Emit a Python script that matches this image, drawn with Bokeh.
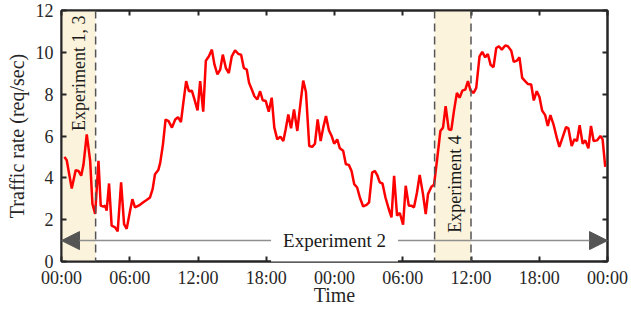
from bokeh.plotting import figure
from bokeh.models import (FixedTicker, LinearAxis, BoxAnnotation, Span, Arrow,
                          NormalHead, Label, Range1d)
from bokeh.embed import file_html
from bokeh.resources import INLINE
import math

# ---- data (hours since start, requests/sec) ----
time_h = [0.26,0.46,0.90,1.25,1.49,1.73,1.93,2.22,2.52,2.72,
          2.96,3.25,3.45,3.68,3.83,3.97,4.18,4.41,4.71,4.94,
          5.24,5.50,5.73,6.03,6.23,6.46,6.90,7.19,7.48,7.78,
          8.01,8.22,8.51,8.68,8.92,9.15,9.41,9.71,10.00,10.24,
          10.50,10.73,10.96,11.20,11.46,11.69,11.96,12.19,12.46,12.69,
          12.96,13.22,13.45,13.71,13.95,14.18,14.45,14.71,14.97,15.26,
          15.55,15.79,16.03,16.29,16.49,16.73,16.96,17.22,17.46,17.69,
          17.96,18.22,18.48,18.71,18.97,19.24,19.50,19.71,19.94,20.18,
          20.44,20.73,21.03,21.25,21.49,21.78,22.04,22.28,22.52,22.78,
          23.01,23.25,23.51,23.75,23.97,24.24,24.47,24.76,25.00,25.26,
          25.50,25.73,25.99,26.23,26.52,26.82,27.04,27.31,27.54,27.78,
          27.98,28.22,28.48,28.77,29.01,29.24,29.50,29.74,30.03,30.26,
          30.53,30.76,30.99,31.25,31.49,31.78,32.02,32.22,32.52,32.75,
          33.04,33.31,33.54,33.77,34.04,34.27,34.50,34.76,35.00,35.24,
          35.50,35.73,35.96,36.23,36.46,36.75,36.99,37.25,37.48,37.72,
          37.98,38.22,38.45,38.71,39.01,39.24,39.54,39.76,40.03,40.26,
          40.50,40.76,40.99,41.29,41.52,41.78,42.02,42.25,42.52,42.75,
          42.98,43.25,43.54,43.77,44.06,44.36,44.56,44.85,45.09,45.32,
          45.55,45.82,46.05,46.32,46.55,46.78,47.08,47.37,47.57,47.80]

rate = [5.00,4.84,3.49,4.37,4.33,4.10,4.62,6.08,4.81,2.75,
        2.27,4.81,2.67,2.62,2.67,2.43,3.73,1.71,1.63,1.44,
        3.78,1.79,1.56,2.43,2.98,2.59,2.71,2.83,2.94,3.06,
        3.46,4.17,4.37,4.73,5.60,6.79,6.71,6.40,6.79,6.90,
        6.67,7.67,8.62,8.14,8.17,7.75,7.22,8.62,7.16,9.60,
        9.81,10.13,9.41,8.94,9.17,9.89,9.25,9.01,9.81,10.10,
        9.92,9.89,9.25,9.17,8.54,8.22,7.90,7.75,8.14,7.71,
        7.67,7.16,7.83,6.40,5.84,5.97,5.76,6.32,7.03,6.37,
        7.27,6.24,7.67,8.65,8.10,5.52,5.48,5.63,6.79,5.76,
        6.40,6.95,6.27,6.00,5.63,5.84,5.41,5.29,4.65,4.62,
        4.33,3.70,3.54,3.06,2.63,2.71,2.83,4.25,4.33,4.10,
        3.78,3.73,3.06,2.51,2.11,4.10,2.19,2.32,1.76,3.62,
        2.67,2.67,2.59,3.30,4.14,3.22,2.27,3.22,3.57,3.67,
        4.97,6.24,6.40,7.43,6.32,6.29,7.19,8.06,7.83,8.17,
        8.22,8.62,8.17,8.06,8.30,9.81,10.02,9.76,9.92,9.41,
        9.29,10.21,10.29,10.13,10.33,10.29,10.08,9.54,9.60,9.76,
        8.78,8.62,8.49,8.46,7.70,8.14,7.86,7.22,7.00,6.48,
        7.00,6.56,5.92,5.48,5.95,6.43,6.37,5.52,5.84,5.76,
        6.52,5.63,5.79,5.41,6.48,5.76,5.79,6.00,5.84,4.52]

x_ticks = [0, 6, 12, 18, 24, 30, 36, 42, 48]
x_tick_labels = ["00:00", "06:00", "12:00", "18:00", "00:00", "06:00", "12:00", "18:00", "00:00"]
y_ticks = [0, 2, 4, 6, 8, 10, 12]

exp13_span = (0, 3)
exp4_span = (32.8, 36)
exp2_span = (0, 48)
exp2_level = 1

FONT = "Liberation Serif"
AX = "#262626"
TXT = "#1a1a1a"

p = figure(width=631, height=309, output_backend="svg", toolbar_location=None,
           x_range=Range1d(0, 48), y_range=Range1d(0, 12),
           min_border_left=61, min_border_right=24, min_border_top=10, min_border_bottom=48,
           background_fill_color="white", border_fill_color="white")
p.grid.visible = False
p.outline_line_color = AX
p.outline_line_width = 2

def style_axis(ax):
    ax.axis_line_color = AX
    ax.axis_line_width = 2
    ax.major_tick_line_color = AX
    ax.major_tick_line_width = 2
    ax.major_tick_in = 5
    ax.major_tick_out = 0
    ax.minor_tick_line_color = None
    ax.major_label_text_font = FONT
    ax.major_label_text_color = AX
    ax.major_label_text_font_size = "18px"

style_axis(p.xaxis[0])
style_axis(p.yaxis[0])
p.xaxis[0].ticker = FixedTicker(ticks=x_ticks)
p.xaxis[0].major_label_overrides = {t: l for t, l in zip(x_ticks, x_tick_labels)}
p.yaxis[0].ticker = FixedTicker(ticks=y_ticks)
p.xaxis[0].major_label_standoff = 6
p.yaxis[0].major_label_standoff = 8

p.xaxis[0].axis_label = "Time"
p.yaxis[0].axis_label = "Traffic rate (req/sec)"
for ax in (p.xaxis[0], p.yaxis[0]):
    ax.axis_label_text_font = FONT
    ax.axis_label_text_font_size = "20px"
    ax.axis_label_text_font_style = "normal"
    ax.axis_label_text_color = AX
p.yaxis[0].axis_label_standoff = 5
p.xaxis[0].axis_label_standoff = -7

top = LinearAxis(ticker=FixedTicker(ticks=x_ticks),
                 major_label_overrides={t: "" for t in x_ticks})
style_axis(top)
top.major_label_standoff = 0
right = LinearAxis(ticker=FixedTicker(ticks=y_ticks),
                   major_label_overrides={t: "" for t in y_ticks})
style_axis(right)
right.major_label_standoff = 0
p.add_layout(top, "above")
p.add_layout(right, "right")

# shaded experiment windows
shade = "#FBF3DC"
for a, b in (exp13_span, exp4_span):
    p.add_layout(BoxAnnotation(left=a, right=b, fill_color=shade, fill_alpha=1.0,
                               line_color=None, level="underlay"))
for loc in (exp13_span[1], exp4_span[0], exp4_span[1]):
    p.add_layout(Span(location=loc, dimension="height", line_color="#555555",
                      line_width=1.5, line_dash="8 5"))

# experiment 2 arrow
p.add_layout(Arrow(x_start=exp2_span[0], x_end=exp2_span[1], y_start=exp2_level, y_end=exp2_level,
                   line_color="#8f8f8f", line_width=1.5,
                   start=NormalHead(size=18, fill_color="#555555", line_color="#555555"),
                   end=NormalHead(size=18, fill_color="#555555", line_color="#555555")))
p.add_layout(Label(x=24, y=exp2_level, text="Experiment 2", text_align="center",
                   text_baseline="middle", text_font=FONT, text_font_size="19px",
                   text_color=TXT, background_fill_color="white",
                   padding=12))

p.line(time_h, rate, line_color="#FF0000", line_width=2.5)

p.add_layout(Label(x=1.5, y=9.0, text="Experiment 1, 3", angle=math.pi / 2,
                   text_align="center", text_baseline="middle", text_font=FONT,
                   text_font_size="18px", text_color=TXT))
p.add_layout(Label(x=34.6, y=3.7, text="Experiment 4", angle=math.pi / 2,
                   text_align="center", text_baseline="middle", text_font=FONT,
                   text_font_size="18px", text_color=TXT))

open("out.html", "w").write(file_html(p, INLINE))
